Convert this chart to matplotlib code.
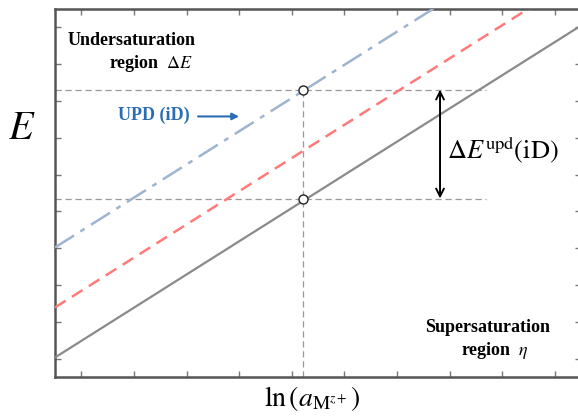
import numpy as np
import matplotlib.pyplot as plt

plt.rcParams['mathtext.fontset'] = 'stix'
plt.rcParams['font.family'] = ['Liberation Serif', 'DejaVu Serif']

# ln(a) range and the three parallel E lines (data units)
ln_a = [-0.5, 9.5]
E_bulk = [0.03, 9.05]       # solid grey
E_mid = [1.39, 10.41]       # red dashed
E_upd = [3.02, 12.04]       # blue dash-dot

# marked points
x_mark = 4.22
E_marks = [7.31, 4.35]
guide_end = 7.7
arrow_x = 6.82

fig = plt.figure(figsize=(5.78, 4.19), dpi=100)
ax = fig.add_axes([55/578, 42/419, 526/578, 368/419])

ax.plot(ln_a, E_bulk, color='#8a8a8a', lw=1.6, zorder=3)
ax.plot(ln_a, E_mid, color='#ff7a7a', lw=1.8, dashes=(5, 3), zorder=3)
ax.plot(ln_a, E_upd, color='#9fb4cf', lw=1.8, dashes=(9, 3, 2, 3), zorder=3)

for e in E_marks:
    ax.plot([-0.5, guide_end], [e, e], color='#999999', lw=0.9, dashes=(5, 3), zorder=2)
ax.plot([x_mark, x_mark], [-0.5, E_marks[0]], color='#999999', lw=0.9, dashes=(5, 3), zorder=2)
ax.plot([x_mark] * 2, E_marks, 'o', ms=6.5, mfc='white', mec='#222222', mew=1.0, zorder=5)

ax.annotate('', xy=(arrow_x, E_marks[0]), xytext=(arrow_x, E_marks[1]),
            arrowprops=dict(arrowstyle='<->', color='black', lw=1.4,
                            shrinkA=0, shrinkB=0, mutation_scale=14))

ax.text(0.95, 8.64, 'Undersaturation', ha='center', va='center',
        fontsize=13, fontweight='bold')
ax.text(1.33, 8.02, r'region  $\Delta E$', ha='center', va='center',
        fontsize=13, fontweight='bold')
ax.text(1.37, 6.6, 'UPD (iD)', ha='center', va='center', fontsize=13,
        fontweight='bold', color='#2a6db5')
ax.annotate('', xy=(3.0, 6.58), xytext=(2.22, 6.58),
            arrowprops=dict(arrowstyle='-|>', color='#2a6db5', lw=1.5,
                            shrinkA=0, shrinkB=0, mutation_scale=10))
ax.text(6.96, 5.65, r'$\Delta E^{\mathrm{upd}}(\mathrm{iD})$', ha='left',
        va='center', fontsize=19)
ax.text(7.72, 0.84, 'Supersaturation', ha='center', va='center',
        fontsize=13, fontweight='bold')
ax.text(7.87, 0.22, r'region  $\eta$', ha='center', va='center',
        fontsize=13, fontweight='bold')

fig.text(0.038, 0.69, r'$E$', ha='center', va='center', fontsize=29)
fig.text(0.54, 0.05, r'$\ln\left(a_{\mathrm{M}^{z+}}\right)$', ha='center',
         va='center', fontsize=20)

ax.set_xlim(-0.5, 9.5)
ax.set_ylim(-0.5, 9.5)
ax.set_xticks(np.arange(0, 10))
ax.set_yticks(np.arange(0, 10))
ax.tick_params(direction='in', length=4, width=1, color='#777777',
               top=True, right=True, labelbottom=False, labelleft=False)
for s in ax.spines.values():
    s.set_color('#555555')
    s.set_linewidth(1.8)

fig.savefig('out.png', dpi=100)
